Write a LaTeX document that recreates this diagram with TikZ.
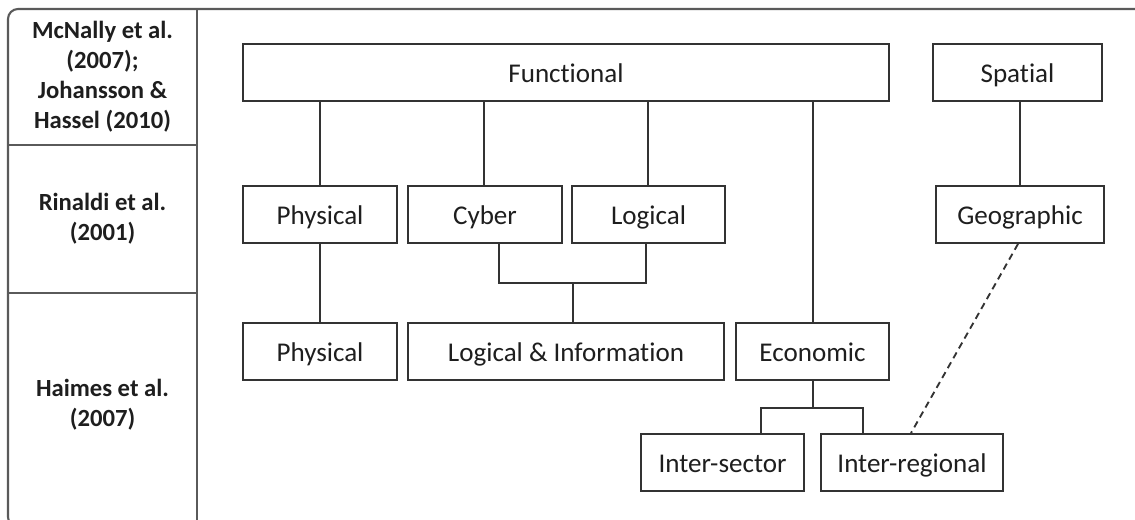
\documentclass[tikz,border=0pt]{standalone}
\usepackage{fontspec}
\setmainfont[Ligatures=NoCommon]{Carlito}
\usetikzlibrary{calc}
\definecolor{txt}{HTML}{1E1E1E}
\definecolor{frm}{HTML}{5A5A5A}
\definecolor{ln}{HTML}{333333}
\tikzset{
  box/.style={draw=ln, line width=1.4pt, rectangle, inner sep=0pt, minimum height=42.75pt,
    text height=15pt, text depth=0pt,
    text=txt, font=\fontsize{20.3pt}{24pt}\selectfont},
  ref/.style={align=center, text=txt, font=\fontsize{18.5pt}{22.5pt}\selectfont\bfseries},
  frameline/.style={draw=frm, line width=1.6pt},
  conn/.style={draw=ln, line width=1.4pt},
  dashconn/.style={draw=ln, line width=1.4pt, dash pattern=on 5pt off 3.5pt}
}
\begin{document}
\begin{tikzpicture}[x=0.75pt,y=-0.75pt]
\useasboundingbox (0,0) rectangle (1135,519);
\clip (0,0) rectangle (1135,519);
% outer frame and left column
\draw[frameline, rounded corners=7.5pt] (8,9) rectangle (1160,527);
\draw[frameline] (197,9) -- (197,530);
\draw[frameline] (8,145) -- (197,145);
\draw[frameline] (8,293) -- (197,293);
\node[ref] (r1) at (102.5,77) {McNally et al.\\(2007);\\Johansson \&\\Hassel (2010)};
\node[ref] (r2) at (102.5,219) {Rinaldi et al.\\(2001)};
\node[ref] (r3) at (102.5,405) {Haimes et al.\\(2007)};
% boxes
\node[box, minimum width=484.5pt] (fun) at (566,72.5) {Functional};
\node[box, minimum width=126.75pt] (spa) at (1017.5,72.5) {Spatial};
\node[box, minimum width=115.5pt] (phy1) at (320,214.5) {Physical};
\node[box, minimum width=115.5pt] (cyb) at (485,214.5) {Cyber};
\node[box, minimum width=114.75pt] (log) at (648.5,214.5) {Logical};
\node[box, minimum width=126pt] (geo) at (1020,214.5) {Geographic};
\node[box, minimum width=115.5pt] (phy2) at (320,351.5) {Physical};
\node[box, minimum width=237pt] (li) at (566,351.5) {Logical \& Information};
\node[box, minimum width=114.75pt] (eco) at (812.5,351.5) {Economic};
\node[box, minimum width=122.25pt] (isec) at (722.5,462.5) {Inter-sector};
\node[box, minimum width=136.5pt] (ireg) at (912,462.5) {Inter-regional};
% connectors
\draw[conn] (fun.south -| phy1.north) -- (phy1.north);
\draw[conn] ($(fun.south -| cyb.north)+(-1,0)$) -- ($(cyb.north)+(-1,0)$);
\draw[conn] ($(fun.south -| log.north)+(-0.5,0)$) -- ($(log.north)+(-0.5,0)$);
\draw[conn] ($(fun.south -| eco.north)+(0.5,0)$) -- ($(eco.north)+(0.5,0)$);
\draw[conn] (spa.south -| geo.north) -- (geo.north);
\draw[conn] (phy1.south) -- (phy2.north);
\coordinate (j1) at (573,283);
\draw[conn] ($(cyb.south)+(14,0)$) |- (j1) -| ($(log.south)+(-2.5,0)$);
\draw[conn] (j1) -- (j1 |- li.north);
\coordinate (j2) at ($(eco.south)+(0.5,27)$);
\draw[conn] ($(eco.south)+(0.5,0)$) -- (j2);
\draw[conn] ($(isec.north)+(38.5,0)$) |- (j2) -| ($(ireg.north)+(-49,0)$);
\draw[dashconn] ($(geo.south)+(-2,0)$) -- ($(ireg.north)+(-1,0)$);
\end{tikzpicture}
\end{document}
